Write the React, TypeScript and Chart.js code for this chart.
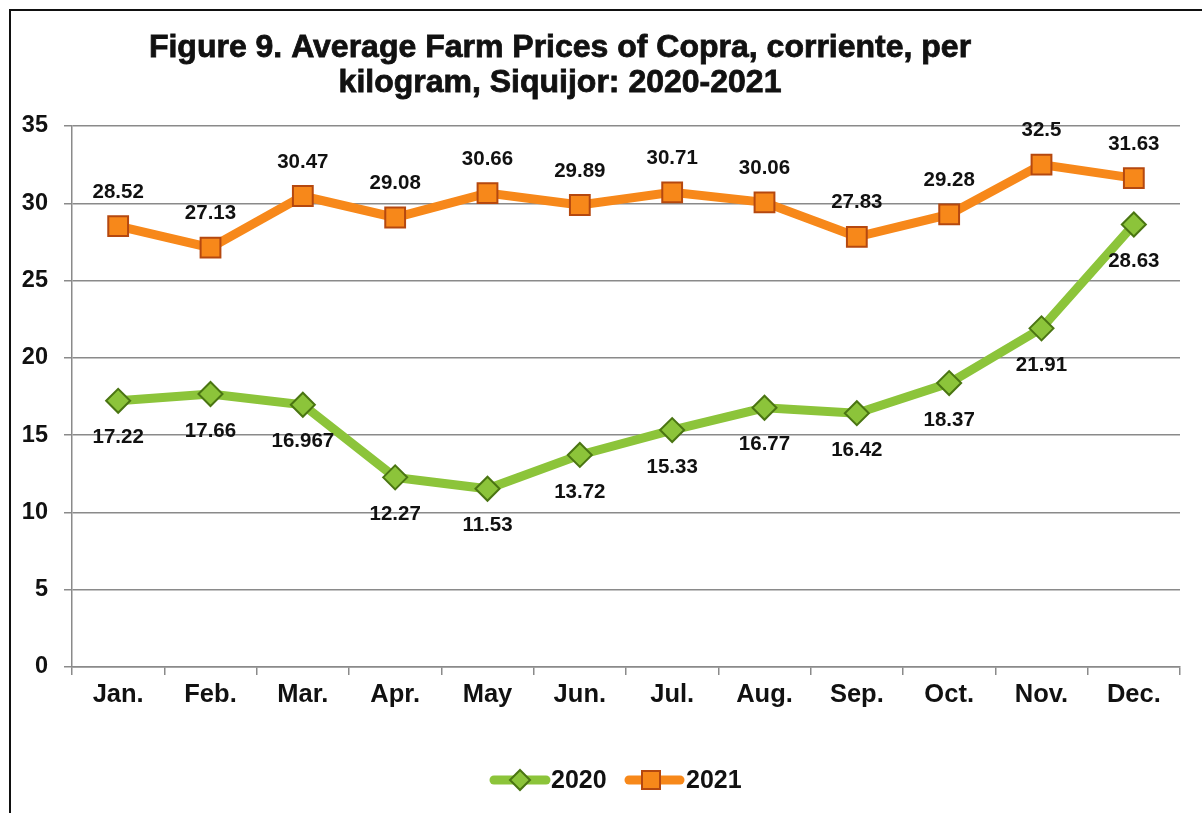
import React, { useEffect, useRef } from "react";
import { Chart, registerables } from "chart.js";

Chart.register(...registerables);

const months = ["Jan.", "Feb.", "Mar.", "Apr.", "May", "Jun.", "Jul.", "Aug.", "Sep.", "Oct.", "Nov.", "Dec."];
const prices2020 = [17.22, 17.66, 16.967, 12.27, 11.53, 13.72, 15.33, 16.77, 16.42, 18.37, 21.91, 28.63];
const prices2021 = [28.52, 27.13, 30.47, 29.08, 30.66, 29.89, 30.71, 30.06, 27.83, 29.28, 32.5, 31.63];
const labels2020 = ["17.22", "17.66", "16.967", "12.27", "11.53", "13.72", "15.33", "16.77", "16.42", "18.37", "21.91", "28.63"];
const labels2021 = ["28.52", "27.13", "30.47", "29.08", "30.66", "29.89", "30.71", "30.06", "27.83", "29.28", "32.5", "31.63"];
const titleLines = ["Figure 9. Average Farm Prices of Copra, corriente, per", "kilogram, Siquijor: 2020-2021"];
const seriesNames = ["2020", "2021"];

const FONT = "'Liberation Sans', Arial, sans-serif";
const GREEN = "#8CC43A";
const GREEN_DARK = "#4A7512";
const ORANGE = "#F7881A";
const ORANGE_DARK = "#B5480F";

const titlePlugin = {
  id: "customTitle",
  afterDraw(chart: any) {
    const ctx = chart.ctx;
    ctx.save();
    ctx.fillStyle = "#111";
    ctx.strokeStyle = "#111";
    ctx.lineWidth = 0.8;
    ctx.font = `bold 32px ${FONT}`;
    ctx.textAlign = "center";
    ctx.textBaseline = "alphabetic";
    ctx.fillText(titleLines[0], 560, 57);
    ctx.strokeText(titleLines[0], 560, 57);
    ctx.fillText(titleLines[1], 560, 92);
    ctx.strokeText(titleLines[1], 560, 92);
    ctx.restore();
  },
};

const valueLabelPlugin = {
  id: "valueLabels",
  afterDatasetsDraw(chart: any) {
    const ctx = chart.ctx;
    ctx.save();
    ctx.fillStyle = "#111";
    ctx.font = `bold 20.5px ${FONT}`;
    ctx.textAlign = "center";
    ctx.textBaseline = "middle";
    const m0 = chart.getDatasetMeta(0);
    const m1 = chart.getDatasetMeta(1);
    m0.data.forEach((p: any, i: number) => {
      ctx.fillText(labels2020[i], p.x, p.y + 37);
    });
    m1.data.forEach((p: any, i: number) => {
      ctx.fillText(labels2021[i], p.x, p.y - 34);
    });
    ctx.restore();
  },
};

function drawDiamond(ctx: any, x: number, y: number, r: number) {
  ctx.beginPath();
  ctx.moveTo(x, y - r);
  ctx.lineTo(x + r, y);
  ctx.lineTo(x, y + r);
  ctx.lineTo(x - r, y);
  ctx.closePath();
  ctx.fillStyle = GREEN;
  ctx.fill();
  ctx.lineWidth = 2;
  ctx.strokeStyle = GREEN_DARK;
  ctx.stroke();
}

function drawSquare(ctx: any, x: number, y: number, h: number) {
  ctx.fillStyle = ORANGE;
  ctx.fillRect(x - h, y - h, 2 * h, 2 * h);
  ctx.lineWidth = 2;
  ctx.strokeStyle = ORANGE_DARK;
  ctx.strokeRect(x - h, y - h, 2 * h, 2 * h);
}

const legendPlugin = {
  id: "customLegend",
  afterDraw(chart: any) {
    const ctx = chart.ctx;
    ctx.save();
    const y = 780;
    ctx.lineCap = "round";
    ctx.lineWidth = 9;
    ctx.strokeStyle = GREEN;
    ctx.beginPath();
    ctx.moveTo(494, y);
    ctx.lineTo(546, y);
    ctx.stroke();
    drawDiamond(ctx, 520, y, 10);
    ctx.strokeStyle = ORANGE;
    ctx.lineWidth = 9;
    ctx.beginPath();
    ctx.moveTo(629, y);
    ctx.lineTo(680, y);
    ctx.stroke();
    drawSquare(ctx, 651, y, 9);
    ctx.fillStyle = "#111";
    ctx.font = `bold 25px ${FONT}`;
    ctx.textAlign = "left";
    ctx.textBaseline = "middle";
    ctx.fillText(seriesNames[0], 551, y + 1);
    ctx.fillText(seriesNames[1], 686, y + 1);
    ctx.restore();
  },
};

export default function App() {
  const ref = useRef<HTMLCanvasElement | null>(null);
  useEffect(() => {
    if (!ref.current) return;
    const chart = new Chart(ref.current, {
      type: "line",
      data: {
        labels: months,
        datasets: [
          {
            label: seriesNames[0],
            data: prices2020,
            borderColor: GREEN,
            borderWidth: 9,
            pointStyle: "rectRot",
            pointRadius: 12,
            pointBackgroundColor: GREEN,
            pointBorderColor: GREEN_DARK,
            pointBorderWidth: 2,
            tension: 0,
          },
          {
            label: seriesNames[1],
            data: prices2021,
            borderColor: ORANGE,
            borderWidth: 9,
            pointStyle: "rect",
            pointRadius: 14,
            pointBackgroundColor: ORANGE,
            pointBorderColor: ORANGE_DARK,
            pointBorderWidth: 2,
            tension: 0,
          },
        ],
      },
      options: {
        animation: false,
        responsive: false,
        layout: { padding: { left: 10, right: 22, top: 126, bottom: 86 } },
        plugins: {
          legend: { display: false },
          title: { display: false },
          tooltip: { enabled: false },
        },
        scales: {
          x: {
            offset: true,
            grid: {
              offset: true,
              drawOnChartArea: false,
              drawTicks: true,
              tickLength: 8,
              color: "#8a8a8a",
              lineWidth: 1.5,
            },
            border: { color: "#8a8a8a", width: 1.5 },
            ticks: {
              color: "#111",
              font: { family: FONT, size: 25.5, weight: "bold" },
              padding: 5,
            },
            afterFit(scale: any) {
              scale.height = 60;
            },
          },
          y: {
            min: 0,
            max: 35,
            ticks: {
              stepSize: 5,
              color: "#111",
              font: { family: FONT, size: 23.5, weight: "bold" },
              padding: 16,
            },
            grid: {
              color: "#8a8a8a",
              lineWidth: 1.5,
              tickLength: 8,
            },
            border: { color: "#8a8a8a", width: 1.5 },
            afterFit(scale: any) {
              scale.width = 62;
            },
          },
        },
      },
      plugins: [titlePlugin, valueLabelPlugin, legendPlugin],
    } as any);
    return () => chart.destroy();
  }, []);

  return (
    <div style={{ position: "fixed", left: 0, top: 0, width: 1202, height: 813, background: "#fff" }}>
      <div
        style={{
          position: "absolute",
          left: 9,
          top: 9,
          width: 1300,
          height: 900,
          borderLeft: "2px solid #111",
          borderTop: "2px solid #111",
        }}
      />
      <canvas ref={ref} width={1202} height={813} style={{ position: "absolute", left: 0, top: 0 }} />
    </div>
  );
}
